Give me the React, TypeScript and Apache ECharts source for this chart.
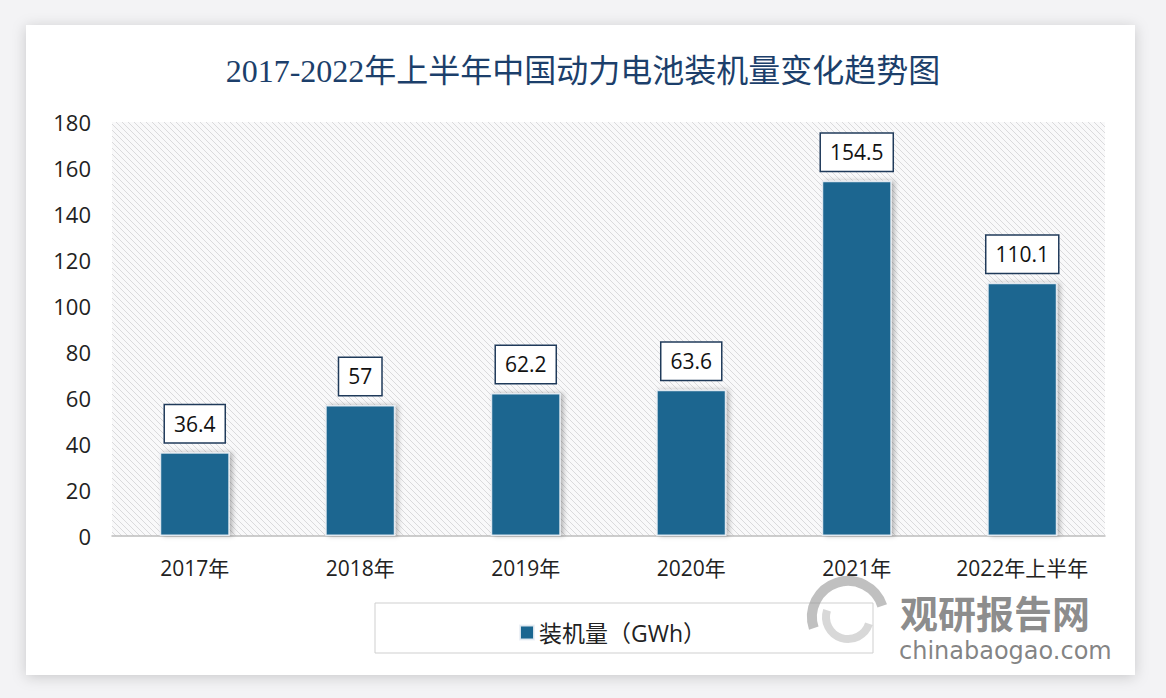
import React, { useEffect, useRef } from "react";
import * as echarts from "echarts";

const categories = ["2017年", "2018年", "2019年", "2020年", "2021年", "2022年上半年"];
const values = [36.4, 57, 62.2, 63.6, 154.5, 110.1];
const seriesName = "装机量（GWh）";
const titleText = "2017-2022年上半年中国动力电池装机量变化趋势图";

function makeHatch(): HTMLCanvasElement {
  const c = document.createElement("canvas");
  c.width = 6;
  c.height = 6;
  const ctx = c.getContext("2d")!;
  ctx.fillStyle = "#f9f9fa";
  ctx.fillRect(0, 0, 6, 6);
  ctx.strokeStyle = "#dadadc";
  ctx.lineWidth = 1;
  for (const o of [-6, 0, 6]) {
    ctx.beginPath();
    ctx.moveTo(o, 0);
    ctx.lineTo(o + 6, 6);
    ctx.stroke();
  }
  return c;
}

export default function App() {
  const ref = useRef<HTMLDivElement>(null);
  useEffect(() => {
    const chart = echarts.init(ref.current!, null, { renderer: "svg" });
    const num = "'Open Sans', 'Noto Sans CJK SC', sans-serif";
    chart.setOption({
      animation: false,
      backgroundColor: "#f3f3f5",
      title: {
        text: titleText,
        left: "center",
        top: 50,
        textStyle: {
          fontFamily: "'Liberation Serif', 'Noto Sans CJK SC', serif",
          fontSize: 32,
          fontWeight: "normal",
          color: "#1c3f6b",
        },
      },
      grid: {
        left: 112,
        right: 61,
        top: 122,
        bottom: 162,
        show: true,
        borderWidth: 0,
        backgroundColor: { image: makeHatch(), repeat: "repeat" },
      },
      legend: {
        data: [seriesName],
        left: 514,
        top: 616,
        itemWidth: 14,
        itemHeight: 14,
        itemGap: 8,
        icon: "rect",
        textStyle: { fontFamily: num, fontSize: 23, color: "#222" },
      },
      xAxis: {
        type: "category",
        data: categories,
        axisLine: { lineStyle: { color: "#bdbdbd", width: 1.5 } },
        axisTick: { show: false },
        axisLabel: { interval: 0, fontFamily: num, fontSize: 21, color: "#222", margin: 21 },
      },
      yAxis: {
        type: "value",
        min: 0,
        max: 180,
        interval: 20,
        splitLine: { show: false },
        axisLine: { show: false },
        axisTick: { show: false },
        axisLabel: { fontFamily: num, fontSize: 22, color: "#222", margin: 21 },
      },
      graphic: [
        {
          type: "rect",
          z: -10,
          shape: { x: 26, y: 25, width: 1109, height: 650 },
          style: { fill: "#ffffff", shadowBlur: 14, shadowColor: "rgba(0,0,0,0.18)", shadowOffsetY: 2 },
        },
        {
          type: "rect",
          z: -5,
          shape: { x: 375, y: 603, width: 498, height: 50 },
          style: { fill: "#ffffff", stroke: "#cfcfcf", lineWidth: 1 },
        },
        {
          type: "arc",
          z: 5,
          shape: { cx: 848, cy: 617, r: 36, startAngle: Math.PI * 0.9, endAngle: Math.PI * 1.9 },
          style: { stroke: "rgba(150,150,150,0.6)", lineWidth: 10, fill: "none" },
        },
        {
          type: "arc",
          z: 5,
          shape: { cx: 848, cy: 617, r: 22, startAngle: Math.PI * 0.1, endAngle: Math.PI * 1.1 },
          style: { stroke: "rgba(200,200,200,0.7)", lineWidth: 8, fill: "none" },
        },
        {
          type: "text",
          z: 5,
          left: 900,
          top: 592,
          style: {
            text: "观研报告网",
            font: "bold 38px 'Noto Sans CJK SC', sans-serif",
            fill: "rgba(120,120,120,0.85)",
          },
        },
        {
          type: "text",
          z: 5,
          left: 899,
          top: 639,
          style: {
            text: "chinabaogao.com",
            font: "24px 'DejaVu Sans', sans-serif",
            fill: "rgba(110,110,110,0.85)",
          },
        },
      ],
      series: [
        {
          name: seriesName,
          type: "bar",
          data: values,
          barWidth: 70,
          itemStyle: {
            color: "#1a6690",
            borderColor: "rgba(235,240,245,0.9)",
            borderWidth: 1.5,
            shadowColor: "rgba(0,0,0,0.28)",
            shadowBlur: 5,
            shadowOffsetX: 3,
          },
          label: {
            show: true,
            position: "top",
            distance: 10,
            fontFamily: num,
            fontSize: 21,
            color: "#111",
            backgroundColor: "#ffffff",
            borderColor: "#1f3a5a",
            borderWidth: 1.5,
            padding: [8, 9],
          },
        },
      ],
    });
    return () => chart.dispose();
  }, []);
  return (
    <div
      ref={ref}
      style={{ position: "absolute", left: 0, top: 0, width: 1166, height: 698 }}
    />
  );
}
